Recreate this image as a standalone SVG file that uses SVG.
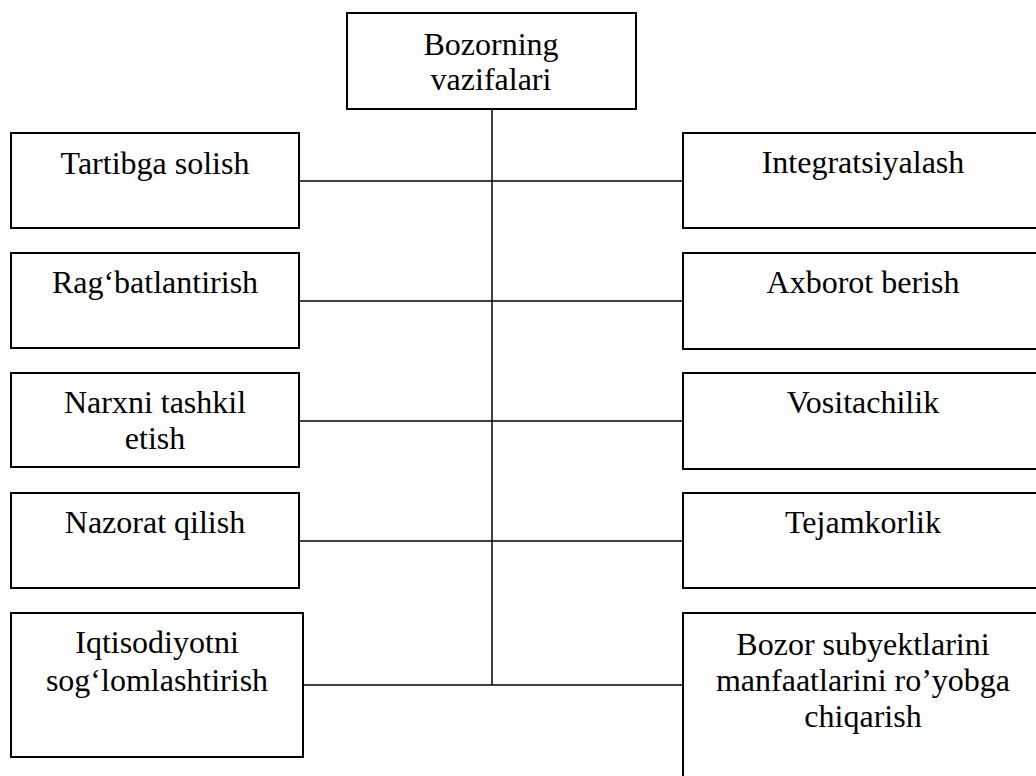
<svg xmlns="http://www.w3.org/2000/svg" width="1036" height="776" viewBox="0 0 1036 776">
  <style>
    .box { fill: #ffffff; stroke: #000000; stroke-width: 2; }
    .link { stroke: #000000; stroke-width: 1.5; fill: none; }
    text { font-family: "Liberation Serif", "Times New Roman", serif; font-size: 32px; fill: #000000; text-anchor: middle; }
  </style>
  <rect width="1036" height="776" fill="#ffffff"/>

  <!-- connectors: central trunk and the row branches -->
  <g id="connectors">
    <line class="link" x1="492" y1="109" x2="492" y2="685"/>
    <line class="link" x1="299" y1="181" x2="683" y2="181"/>
    <line class="link" x1="299" y1="301" x2="683" y2="301"/>
    <line class="link" x1="299" y1="421" x2="683" y2="421"/>
    <line class="link" x1="299" y1="541" x2="683" y2="541"/>
    <line class="link" x1="300" y1="685" x2="683" y2="685"/>
  </g>

  <g id="root">
    <rect class="box" x="347" y="13" width="289" height="96"/>
    <text x="491" y="55">Bozorning</text>
    <text x="491" y="90">vazifalari</text>
  </g>

  <!-- left column -->
  <g id="tartibga">
    <rect class="box" x="11" y="133" width="288" height="95"/>
    <text x="155" y="174">Tartibga solish</text>
  </g>
  <g id="ragbatlantirish">
    <rect class="box" x="11" y="253" width="288" height="95"/>
    <text x="155" y="293">Rag‘batlantirish</text>
  </g>
  <g id="narx">
    <rect class="box" x="11" y="373" width="288" height="94"/>
    <text x="155" y="413">Narxni tashkil</text>
    <text x="155" y="449">etish</text>
  </g>
  <g id="nazorat">
    <rect class="box" x="11" y="493" width="288" height="95"/>
    <text x="155" y="533">Nazorat qilish</text>
  </g>
  <g id="iqtisodiyot">
    <rect class="box" x="11" y="613" width="292" height="144"/>
    <text x="157" y="653">Iqtisodiyotni</text>
    <text x="157" y="691">sog‘lomlashtirish</text>
  </g>

  <!-- right column -->
  <g id="integratsiya">
    <rect class="box" x="683" y="133" width="360" height="95"/>
    <text x="863" y="173">Integratsiyalash</text>
  </g>
  <g id="axborot">
    <rect class="box" x="683" y="253" width="360" height="96"/>
    <text x="863" y="293">Axborot berish</text>
  </g>
  <g id="vositachilik">
    <rect class="box" x="683" y="373" width="360" height="96"/>
    <text x="863" y="413">Vositachilik</text>
  </g>
  <g id="tejamkorlik">
    <rect class="box" x="683" y="493" width="360" height="95"/>
    <text x="863" y="533">Tejamkorlik</text>
  </g>
  <g id="manfaatlar">
    <rect class="box" x="683" y="613" width="360" height="180"/>
    <text x="863" y="655">Bozor subyektlarini</text>
    <text x="863" y="691">manfaatlarini ro’yobga</text>
    <text x="863" y="727">chiqarish</text>
  </g>
</svg>
